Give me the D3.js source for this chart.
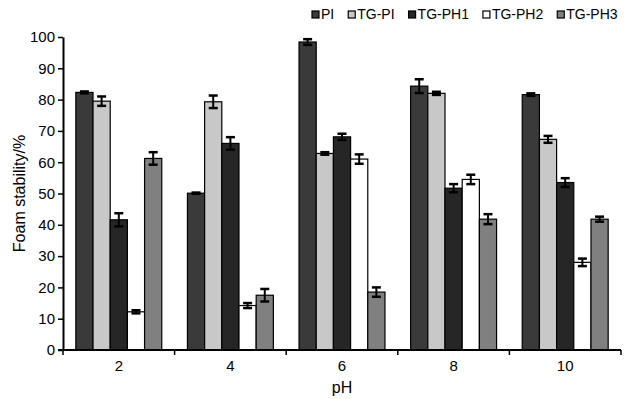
<!DOCTYPE html>
<html>
<head>
<meta charset="utf-8">
<script src="https://cdn.jsdelivr.net/npm/d3@7"></script>
<style>
	body { margin: 0; background: #fff; }
	text { font-family: "Liberation Sans", Arial, sans-serif; }
</style>
</head>
<body>
<div id="chart"></div>
<script>

// data
var categories = ["2", "4", "6", "8", "10"];
var series = ["PI", "TG-PI", "TG-PH1", "TG-PH2", "TG-PH3"];
var colors = ["#3a3a3a", "#c8c8c8", "#262626", "#ffffff", "#808080"];

var valPI   = [82.3, 50.1, 98.4, 84.3, 81.6];
var valTGPI = [79.5, 79.3, 62.8, 82.0, 67.3];
var valPH1  = [41.6, 66.0, 68.1, 51.7, 53.5];
var valPH2  = [12.2, 14.2, 61.0, 54.5, 28.0];
var valPH3  = [61.2, 17.5, 18.5, 41.8, 41.8];

var errPI   = [0.3, 0.2, 0.9, 2.2, 0.4];
var errTGPI = [1.5, 2.0, 0.4, 0.5, 1.1];
var errPH1  = [2.1, 2.0, 1.0, 1.3, 1.4];
var errPH2  = [0.5, 0.8, 1.5, 1.5, 1.2];
var errPH3  = [2.0, 2.0, 1.5, 1.6, 0.8];

var yTicks = [0, 10, 20, 30, 40, 50, 60, 70, 80, 90, 100];

var values = [valPI, valTGPI, valPH1, valPH2, valPH3];
var errors = [errPI, errTGPI, errPH1, errPH2, errPH3];

var width = 632, height = 399;
var margin = {left: 63, right: 11, top: 37, bottom: 49};

var svg = d3.select("#chart")
			.append("svg")
			.attr("width", width)
			.attr("height", height);

var x0 = d3.scaleBand()
			.domain(categories)
			.range([margin.left, width - margin.right]);

var x1 = d3.scaleBand()
			.domain(series)
			.range([x0.bandwidth() * 0.115, x0.bandwidth() * 0.885]);

var y = d3.scaleLinear()
			.domain([0, 100])
			.range([height - margin.bottom, margin.top]);

// build flat list of bars
var bars = [];
categories.forEach(function(c, i) {
	series.forEach(function(s, j) {
		bars.push({cat: c, ser: s, v: values[j][i], e: errors[j][i], color: colors[j]});
	});
});

svg.selectAll("rect.bar")
	.data(bars)
	.enter()
	.append("rect")
	.attr("class", "bar")
	.attr("x", function(d) { return x0(d.cat) + x1(d.ser); })
	.attr("y", function(d) { return y(d.v); })
	.attr("width", x1.bandwidth())
	.attr("height", function(d) { return y(0) - y(d.v); })
	.style("fill", function(d) { return d.color; })
	.style("stroke", "#000")
	.style("stroke-width", 1.2);

// error bars
var eb = svg.selectAll("g.err")
	.data(bars)
	.enter()
	.append("g")
	.attr("class", "err")
	.attr("transform", function(d) { return "translate(" + (x0(d.cat) + x1(d.ser) + x1.bandwidth() / 2) + ",0)"; });

eb.append("line")
	.attr("y1", function(d) { return y(d.v + d.e); })
	.attr("y2", function(d) { return y(d.v - d.e); })
	.style("stroke", "#000")
	.style("stroke-width", 2);

eb.selectAll("line.cap")
	.data(function(d) { return [d.v + d.e, d.v - d.e]; })
	.enter()
	.append("line")
	.attr("class", "cap")
	.attr("x1", -4.5)
	.attr("x2", 4.5)
	.attr("y1", function(d) { return y(d); })
	.attr("y2", function(d) { return y(d); })
	.style("stroke", "#000")
	.style("stroke-width", 2.5);

// y axis
var yAxis = svg.append("g")
	.attr("transform", "translate(" + margin.left + ",0)")
	.call(d3.axisLeft(y).tickValues(yTicks).tickSize(5).tickSizeOuter(0));

yAxis.select(".domain").style("stroke-width", 2);
yAxis.selectAll(".tick line").style("stroke-width", 1.5);
yAxis.selectAll("text")
	.style("font-size", "15px")
	.style("font-family", "'Liberation Sans', Arial, sans-serif")
	.style("fill", "#000")
	.attr("x", -8);

// x axis: ticks on category boundaries, labels in the middle
var xAxis = svg.append("g")
	.attr("transform", "translate(0," + y(0) + ")");

xAxis.append("line")
	.attr("x1", margin.left - 5)
	.attr("x2", width - margin.right)
	.style("stroke", "#000")
	.style("stroke-width", 2);

var bounds = categories.map(function(c) { return x0(c); }).concat([x0(categories[categories.length - 1]) + x0.step()]);

xAxis.selectAll("line.tick")
	.data(bounds)
	.enter()
	.append("line")
	.attr("class", "tick")
	.attr("x1", function(d) { return d; })
	.attr("x2", function(d) { return d; })
	.attr("y1", 0)
	.attr("y2", 5)
	.style("stroke", "#000")
	.style("stroke-width", 1.5);

xAxis.selectAll("text")
	.data(categories)
	.enter()
	.append("text")
	.attr("x", function(d) { return x0(d) + x0.bandwidth() / 2; })
	.attr("y", 21)
	.attr("text-anchor", "middle")
	.style("font-size", "15px")
	.text(function(d) { return d; });

// axis titles
svg.append("text")
	.attr("x", margin.left + (width - margin.left - margin.right) / 2)
	.attr("y", 393)
	.attr("text-anchor", "middle")
	.style("font-size", "16px")
	.text("pH");

svg.append("text")
	.attr("transform", "translate(25," + ((margin.top + y(0)) / 2) + ") rotate(-90)")
	.attr("text-anchor", "middle")
	.style("font-size", "16px")
	.text("Foam stability/%");

// legend, laid out from measured text widths
var lx = 312;

series.forEach(function(s, i) {
	var g = svg.append("g")
		.attr("class", "legend")
		.attr("transform", "translate(" + lx + ",11)");

	g.append("rect")
		.attr("width", 7)
		.attr("height", 7)
		.style("fill", colors[i])
		.style("stroke", "#000")
		.style("stroke-width", 1.2);

	var t = g.append("text")
		.attr("x", 9)
		.attr("y", 8)
		.style("font-size", "14px")
		.text(s);

	lx += 9 + t.node().getComputedTextLength() + 14;
});

</script>
</body>
</html>
